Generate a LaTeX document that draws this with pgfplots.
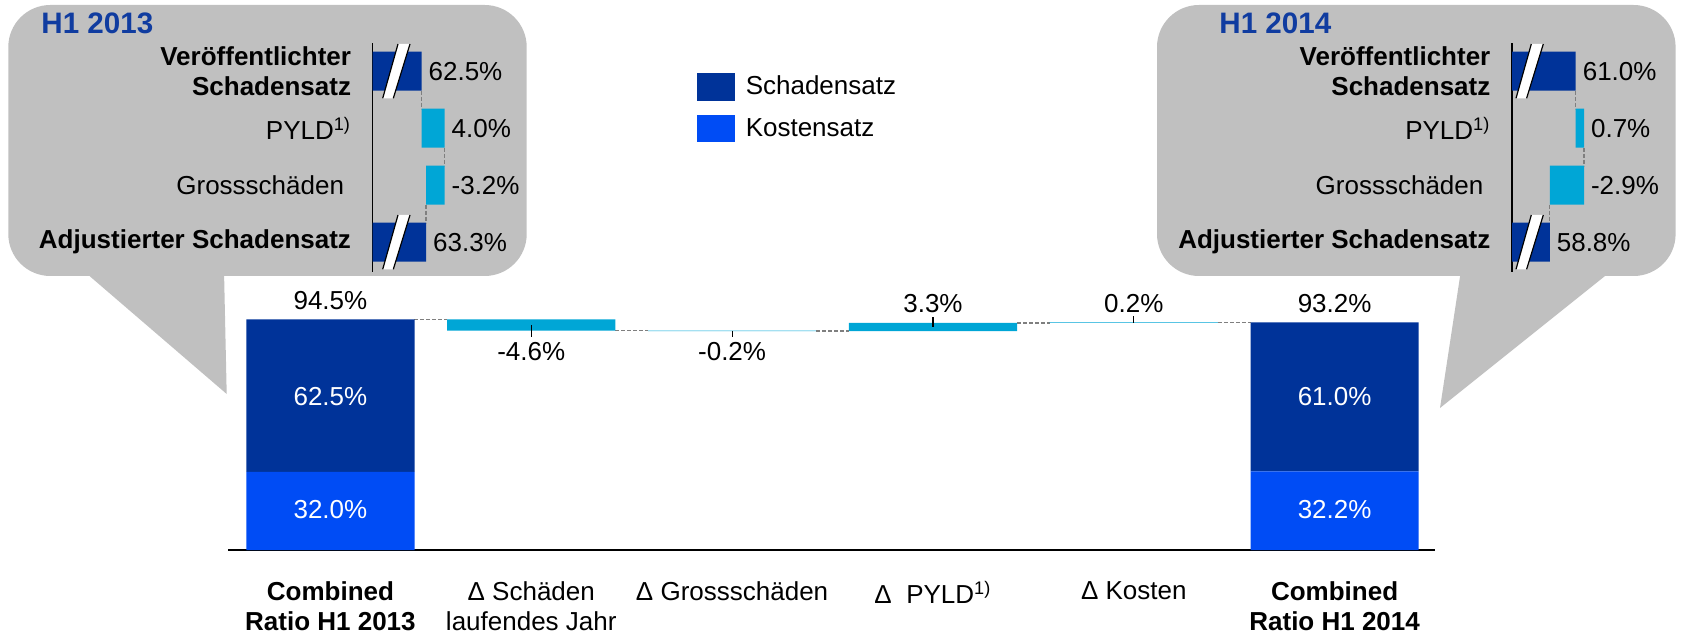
\documentclass[border=0pt]{standalone}
\usepackage{fontspec}
\setmainfont{Liberation Sans}
\usepackage{pgfplots}
\pgfplotsset{compat=1.18}

\definecolor{dunkel}{HTML}{003399}
\definecolor{hell}{HTML}{004CF5}
\definecolor{delta}{HTML}{00A6D6}
\definecolor{grau}{HTML}{C0C0C0}
\definecolor{titel}{HTML}{103CA0}
\definecolor{strich}{HTML}{7F7F7F}

\newcommand{\fs}{\fontsize{13}{15}\selectfont}
\newcommand{\ft}{\fontsize{14.8}{16}\selectfont\bfseries}

% break mark on the inset bars, x0 and row centre in px
\newcommand{\brk}[2]{%
  \fill[white] (#1,#2+27.1) -- (#1+15.3,#2-27.2) -- (#1+27.3,#2-27.2) -- (#1+10.6,#2+27.1) -- cycle;
  \draw[black, line width=0.6pt] (#1,#2+27.1) -- (#1+15.3,#2-27.2) (#1+10.6,#2+27.1) -- (#1+27.3,#2-27.2);
}

\tikzset{verb/.style={strich, dash pattern=on 2pt off 1pt, line width=0.7pt}}

\pgfplotsset{
  inset/.style={
    anchor=north west, y dir=reverse,
    ymin=-0.49, ymax=3.52, y=28.5pt,
    xbar stacked, bar width=19.5pt,
    axis x line=none, axis y line*=left,
    y axis line style={black, line width=0.65pt},
    ytick={0,1,2,3}, major tick length=0pt,
    yticklabels={{\textbf{Veröffentlichter}\\\textbf{Schadensatz}}, PYLD\textsuperscript{1)}, Grossschäden\hspace{3.5pt}, \textbf{Adjustierter Schadensatz}},
    yticklabel style={font=\fs, align=right, xshift=-7.3pt},
    clip mode=individual,
  },
}

\begin{document}
\begin{tikzpicture}
\path[use as bounding box] (0,0) rectangle (840.5pt,-318pt);

% callouts
\begin{scope}[x=0.5pt,y=-0.5pt]
  \fill[grau, rounded corners=21pt] (8.3,5) rectangle (526.7,276);
  \fill[grau] (82.5,270) -- (89.5,276) -- (226.7,394) -- (224,270) -- cycle;
  \fill[grau, rounded corners=21pt] (1157,5) rectangle (1675.6,276);
  \fill[grau] (1461,270) -- (1440,408) -- (1605,276) -- (1612,270) -- cycle;
  \node[font=\ft, text=titel, anchor=base west, inner sep=0pt] at (41,33.3) {H1 2013};
  \node[font=\ft, text=titel, anchor=base west, inner sep=0pt] at (1219,33.3) {H1 2014};
\end{scope}

% inset H1 2013
\begin{axis}[inset, at={(186.35pt,-21.65pt)}, x=2.875pt, xmin=54.0, xmax=72]
  \addplot[fill=dunkel, draw=none] coordinates {(62.5,0) (0,1) (0,2) (63.3,3)};
  \addplot[fill=none, draw=none] coordinates {(0,0) (62.5,1) (63.3,2) (0,3)};
  \addplot[fill=delta, draw=none] coordinates {(0,0) (4.0,1) (3.2,2) (0,3)};
  \node[font=\fs, anchor=west] at (axis cs:62.5,0) {62.5\%};
  \node[font=\fs, anchor=west] at (axis cs:66.5,1) {4.0\%};
  \node[font=\fs, anchor=west] at (axis cs:66.5,2) {-3.2\%};
  \node[font=\fs, anchor=west] at (axis cs:63.3,3) {63.3\%};
  \draw[verb] (axis cs:62.5,0.342) -- (axis cs:62.5,0.658);
  \draw[verb] (axis cs:66.5,1.342) -- (axis cs:66.5,1.658);
  \draw[verb] (axis cs:63.3,2.342) -- (axis cs:63.3,2.658);
\end{axis}

% inset H1 2014
\begin{axis}[inset, at={(756pt,-21.65pt)}, x=5.9pt, xmin=55.6, xmax=64]
  \addplot[fill=dunkel, draw=none] coordinates {(61.0,0) (0,1) (0,2) (58.8,3)};
  \addplot[fill=none, draw=none] coordinates {(0,0) (61.0,1) (58.8,2) (0,3)};
  \addplot[fill=delta, draw=none] coordinates {(0,0) (0.7,1) (2.9,2) (0,3)};
  \node[font=\fs, anchor=west] at (axis cs:61.0,0) {61.0\%};
  \node[font=\fs, anchor=west] at (axis cs:61.7,1) {0.7\%};
  \node[font=\fs, anchor=west] at (axis cs:61.7,2) {-2.9\%};
  \node[font=\fs, anchor=west] at (axis cs:58.8,3) {58.8\%};
  \draw[verb] (axis cs:61.0,0.342) -- (axis cs:61.0,0.658);
  \draw[verb] (axis cs:61.7,1.342) -- (axis cs:61.7,1.658);
  \draw[verb] (axis cs:58.8,2.342) -- (axis cs:58.8,2.658);
\end{axis}

\begin{scope}[x=0.5pt,y=-0.5pt]
  \brk{382.7}{71.2}
  \brk{382.7}{242.2}
  \brk{1516}{71.2}
  \brk{1516}{242.2}
\end{scope}

% main waterfall
\begin{axis}[
  at={(114pt,-275pt)}, anchor=south west,
  x=100.42pt, y=1.2205pt,
  xmin=-0.51, xmax=5.50, ymin=0, ymax=100,
  ybar stacked, bar width=84.1pt,
  axis x line*=bottom, axis y line=none,
  x axis line style={black, line width=1pt},
  xtick={0,...,5}, major tick length=0pt,
  xticklabels={{\textbf{Combined}\\\textbf{Ratio H1 2013}}, {Δ Schäden\\laufendes Jahr}, Δ Grossschäden, Δ\ \ PYLD\textsuperscript{1)}, Δ Kosten, {\textbf{Combined}\\\textbf{Ratio H1 2014}}},
  xticklabel style={font=\fs, align=center, yshift=-12.3pt},
  clip=false,
  reverse legend,
  legend image code/.code={\fill[#1] (0pt,-6.85pt) rectangle (18.85pt,6.85pt);},
  legend cell align=left,
  legend style={at={(0.3886,1.953)}, anchor=north west, draw=none, fill=none,
    inner sep=0pt, outer sep=0pt, font=\fs, row sep=7.15pt, column sep=5.5pt,
    nodes={inner sep=0pt}},
]
  \addplot[fill=hell, draw=none] coordinates {(0,32.0) (1,0) (2,0) (3,0) (4,0) (5,32.2)};
  \addlegendentry{Kostensatz}
  \addplot[fill=dunkel, draw=none] coordinates {(0,62.5) (1,0) (2,0) (3,0) (4,0) (5,61.0)};
  \addlegendentry{Schadensatz}
  \addplot[fill=none, draw=none, forget plot] coordinates {(0,0) (1,89.9) (2,89.7) (3,89.7) (4,93.0) (5,0)};
  \addplot[fill=delta, draw=none, forget plot] coordinates {(0,0) (1,4.6) (2,0.2) (3,3.3) (4,0.2) (5,0)};

  \draw[verb] (axis cs:0.4185,94.5) -- (axis cs:0.5815,94.5);
  \draw[verb] (axis cs:1.4185,89.9) -- (axis cs:1.5815,89.9);
  \draw[verb] (axis cs:2.4185,89.7) -- (axis cs:2.5815,89.7);
  \draw[verb] (axis cs:3.4185,93.0) -- (axis cs:3.5815,93.0);
  \draw[verb] (axis cs:4.4185,93.2) -- (axis cs:4.5815,93.2);

  % anchors for what goes on top of the bars
  \coordinate (t1a) at (axis cs:1,92.2);  \coordinate (t1b) at (axis cs:1,89.9);
  \coordinate (t2a) at (axis cs:2,89.8);  \coordinate (t2b) at (axis cs:2,89.7);
  \coordinate (t3a) at (axis cs:3,91.4);  \coordinate (t3b) at (axis cs:3,93.0);
  \coordinate (t4a) at (axis cs:4,93.1);  \coordinate (t4b) at (axis cs:4,93.2);
  \coordinate (w1) at (axis cs:0,62.8);   \coordinate (w2) at (axis cs:0,16.4);
  \coordinate (w3) at (axis cs:5,62.8);   \coordinate (w4) at (axis cs:5,16.4);

  \node[font=\fs] at (axis cs:0,102.3) {94.5\%};
  \node[font=\fs] at (axis cs:1,81.3) {-4.6\%};
  \node[font=\fs] at (axis cs:2,81.3) {-0.2\%};
  \node[font=\fs] at (axis cs:3,101.0) {3.3\%};
  \node[font=\fs] at (axis cs:4,101.0) {0.2\%};
  \node[font=\fs] at (axis cs:5,101.0) {93.2\%};
\end{axis}

\draw[black, line width=0.6pt] (t1a) -- ([yshift=-3pt]t1b);
\draw[black, line width=0.6pt] (t2a) -- ([yshift=-3pt]t2b);
\draw[black, line width=0.6pt] (t3a) -- ([yshift=3pt]t3b);
\draw[black, line width=0.6pt] (t4a) -- ([yshift=3pt]t4b);
\node[font=\fs, text=white] at (w1) {62.5\%};
\node[font=\fs, text=white] at (w2) {32.0\%};
\node[font=\fs, text=white] at (w3) {61.0\%};
\node[font=\fs, text=white] at (w4) {32.2\%};
\end{tikzpicture}
\end{document}
